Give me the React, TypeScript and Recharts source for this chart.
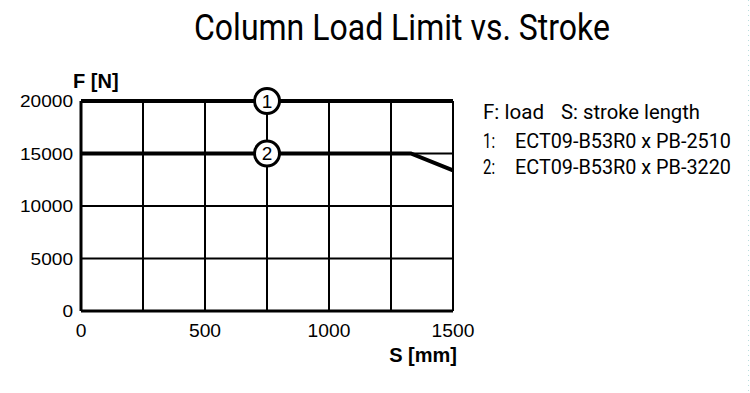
import { LineChart, Line, XAxis, YAxis, CartesianGrid, ReferenceDot } from 'recharts';

// stroke positions [mm]
const strokes = [0, 1330, 1500];
// series 1: ECT09-B53R0 x PB-2510
const loads2510 = [20000, 20000, 20000];
// series 2: ECT09-B53R0 x PB-3220
const loads3220 = [15000, 15000, 13400];

const xTicks = [0, 250, 500, 750, 1000, 1250, 1500];
const yTicks = [0, 5000, 10000, 15000, 20000];

const legendLines = [
  { num: '1:', text: 'ECT09-B53R0 x PB-2510' },
  { num: '2:', text: 'ECT09-B53R0 x PB-3220' },
];

const data = strokes.map((s, i) => ({ s, a: loads2510[i], b: loads3220[i] }));

const tickFont = 'Liberation Sans, Arial, sans-serif';
const condFont = 'Roboto, sans-serif';

function YTick(props: any) {
  const { x, y, payload } = props;
  const label = String(payload.value);
  return (
    <text x={x} y={y} dy={6} textAnchor="end" fontFamily={tickFont} fontSize={17} fill="#000"
      textLength={label.length * 10.6} lengthAdjust="spacingAndGlyphs">
      {label}
    </text>
  );
}

function XTick(props: any) {
  const { x, y, payload } = props;
  if (payload.value % 500 !== 0) return <g />;
  const label = String(payload.value);
  return (
    <text x={x} y={y} dy={26} textAnchor="middle" fontFamily={tickFont} fontSize={17.5} fill="#000"
      textLength={label.length * 10.7} lengthAdjust="spacingAndGlyphs">
      {label}
    </text>
  );
}

export default function App() {
  return (
    <div style={{ position: 'absolute', left: 0, top: 0, width: 750, height: 393, background: '#fff' }}>
      <LineChart width={750} height={393} data={data} margin={{ top: 101, right: 297, bottom: 42, left: 0 }}>
        <CartesianGrid stroke="#000" strokeWidth={2} />
        <XAxis
          dataKey="s"
          type="number"
          domain={[0, 1500]}
          ticks={xTicks}
          height={40}
          tickSize={0}
          tickMargin={0}
          tickLine={false}
          axisLine={{ stroke: '#000', strokeWidth: 3 }}
          tick={<XTick />}
        />
        <YAxis
          type="number"
          domain={[0, 20000]}
          ticks={yTicks}
          width={81}
          tickSize={0}
          tickMargin={8}
          tickLine={false}
          axisLine={{ stroke: '#000', strokeWidth: 3 }}
          tick={<YTick />}
        />
        <Line type="linear" dataKey="a" stroke="#000" strokeWidth={4} dot={false} isAnimationActive={false} />
        <Line type="linear" dataKey="b" stroke="#000" strokeWidth={4} dot={false} isAnimationActive={false} />
        <ReferenceDot x={750} y={20000} r={12.5} fill="#fff" stroke="#000" strokeWidth={3} ifOverflow="visible"
          label={{ value: '1', position: 'center', fill: '#000', fontSize: 19, fontFamily: tickFont }} />
        <ReferenceDot x={750} y={15000} r={12.5} fill="#fff" stroke="#000" strokeWidth={3} ifOverflow="visible"
          label={{ value: '2', position: 'center', fill: '#000', fontSize: 19, fontFamily: tickFont }} />
      </LineChart>
      <svg width={750} height={393} style={{ position: 'absolute', left: 0, top: 0, pointerEvents: 'none' }}>
        <text x={194} y={40} fontFamily={condFont} fontSize={37} fill="#000" textLength={416} lengthAdjust="spacingAndGlyphs">
          Column Load Limit vs. Stroke
        </text>
        <text x={73} y={88} fontFamily={tickFont} fontWeight="bold" fontSize={20} fill="#000">F [N]</text>
        <text x={457} y={362} textAnchor="end" fontFamily={tickFont} fontWeight="bold" fontSize={20} fill="#000">S [mm]</text>
        <text x={483} y={119} fontFamily={condFont} fontSize={20} fill="#000" textLength={61} lengthAdjust="spacingAndGlyphs">F: load</text>
        <text x={561} y={119} fontFamily={condFont} fontSize={20} fill="#000" textLength={139} lengthAdjust="spacingAndGlyphs">S: stroke length</text>
        {legendLines.map((l, i) => (
          <g key={l.num}>
            <text x={483} y={148 + i * 25.5} fontFamily={condFont} fontSize={20} fill="#000" textLength={12} lengthAdjust="spacingAndGlyphs">{l.num}</text>
            <text x={515} y={148 + i * 25.5} fontFamily={condFont} fontSize={20} fill="#000" textLength={216} lengthAdjust="spacingAndGlyphs">{l.text}</text>
          </g>
        ))}
        <line x1={748.5} y1={0} x2={748.5} y2={393} stroke="#b8dede" strokeWidth={1} strokeDasharray="1 4" />
      </svg>
    </div>
  );
}
